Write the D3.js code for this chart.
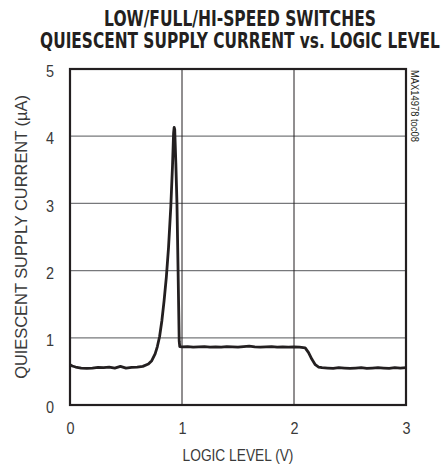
<!DOCTYPE html>
<html><head><meta charset="utf-8">
<script src="https://cdn.jsdelivr.net/npm/d3@7"></script>
<style>body{margin:0;background:#fff}svg{display:block}</style>
</head><body><svg id="c" width="444" height="468"></svg>
<script>
const titleLines = ["LOW/FULL/HI-SPEED SWITCHES", "QUIESCENT SUPPLY CURRENT vs. LOGIC LEVEL"];
const xLabel = "LOGIC LEVEL (V)";
const yLabel = "QUIESCENT SUPPLY CURRENT (\u00b5A)";
const sideNote = "MAX14978 toc08";
const xTicks = [0, 1, 2, 3];
const yTicks = [0, 1, 2, 3, 4, 5];
const logicLevel = [0, 0.02, 0.05, 0.1, 0.15, 0.2, 0.25, 0.3, 0.35, 0.4, 0.45, 0.5, 0.55, 0.6, 0.65, 0.7, 0.73, 0.76, 0.78, 0.8, 0.82, 0.84, 0.86, 0.88, 0.9, 0.915, 0.925, 0.93, 0.935, 0.945, 0.955, 0.965, 0.975, 0.98, 1.0, 1.05, 1.1, 1.15, 1.2, 1.25, 1.3, 1.35, 1.4, 1.45, 1.5, 1.55, 1.6, 1.65, 1.7, 1.75, 1.8, 1.85, 1.9, 1.95, 2.0, 2.05, 2.1, 2.13, 2.16, 2.19, 2.22, 2.25, 2.3, 2.35, 2.4, 2.45, 2.5, 2.55, 2.6, 2.65, 2.7, 2.75, 2.8, 2.85, 2.9, 2.95, 3.0];
const current = [0.60, 0.58, 0.565, 0.55, 0.545, 0.55, 0.56, 0.555, 0.565, 0.55, 0.575, 0.55, 0.56, 0.565, 0.575, 0.61, 0.66, 0.76, 0.87, 1.02, 1.25, 1.55, 1.9, 2.35, 2.95, 3.55, 4.05, 4.13, 4.1, 3.6, 3.0, 2.0, 0.95, 0.87, 0.865, 0.87, 0.86, 0.865, 0.87, 0.86, 0.865, 0.86, 0.87, 0.865, 0.86, 0.87, 0.875, 0.865, 0.86, 0.865, 0.87, 0.86, 0.865, 0.86, 0.865, 0.86, 0.85, 0.78, 0.68, 0.6, 0.565, 0.555, 0.55, 0.545, 0.555, 0.55, 0.545, 0.55, 0.555, 0.545, 0.55, 0.555, 0.55, 0.545, 0.555, 0.55, 0.555];

const svg = d3.select("#c");
const m = {l: 70, r: 406, t: 69, b: 405};
const x = d3.scaleLinear().domain([0, 3]).range([m.l, m.r]);
const y = d3.scaleLinear().domain([0, 5]).range([m.b, m.t]);
const font = "'Liberation Sans',Arial,sans-serif";
const ink = "#231f20";

// squeeze a text horizontally (in its own frame) to a target width
function squeeze(sel, tx, ty, rot, target) {
  const w = sel.node().getComputedTextLength();
  const s = Math.min(1, target / w);
  sel.attr("transform", `translate(${tx},${ty}) rotate(${rot}) scale(${s},1)`);
}

// title
const tw = [272, 400];
titleLines.forEach((t, i) => {
  const el = svg.append("text").attr("x", 0).attr("y", 0)
    .attr("text-anchor", "middle").attr("font-family", "'DejaVu Sans',sans-serif").attr("font-weight", "bold")
    .attr("font-size", 21).attr("fill", ink).text(t);
  squeeze(el, 240, 26 + i * 22, 0, tw[i]);
});

// gridlines
svg.append("g").selectAll("line").data(yTicks.slice(1, -1)).join("line")
  .attr("x1", m.l).attr("x2", m.r).attr("y1", d => y(d)).attr("y2", d => y(d))
  .attr("stroke", "#77787b").attr("stroke-width", 1.2);
svg.append("g").selectAll("line").data(xTicks.slice(1, -1)).join("line")
  .attr("y1", m.t).attr("y2", m.b).attr("x1", d => x(d)).attr("x2", d => x(d))
  .attr("stroke", ink).attr("stroke-width", 1);

// frame
svg.append("rect").attr("x", m.l).attr("y", m.t).attr("width", m.r - m.l).attr("height", m.b - m.t)
  .attr("fill", "none").attr("stroke", ink).attr("stroke-width", 2.2);

// tick labels via d3 axes (no tick lines)
const xa = d3.axisBottom(x).tickValues(xTicks).tickSize(0).tickPadding(0).tickFormat(d3.format("d"));
const gx = svg.append("g").attr("transform", `translate(0,${m.b + 29})`).call(xa);
gx.select(".domain").remove();
gx.selectAll("text").attr("font-family", font).attr("font-size", 17).attr("fill", "#3a3a3a")
  .attr("dy", 0).attr("transform", "scale(0.85,1)").attr("x", function(d) { return 0; });
gx.selectAll(".tick").each(function() {
  d3.select(this).select("text").attr("transform", "scale(0.85,1)");
});

const ya = d3.axisLeft(y).tickValues(yTicks).tickSize(0).tickPadding(0).tickFormat(d3.format("d"));
const gy = svg.append("g").attr("transform", `translate(${m.l - 16},0)`).call(ya);
gy.select(".domain").remove();
gy.selectAll("text").attr("font-family", font).attr("font-size", 17).attr("fill", "#3a3a3a")
  .attr("dy", "0.45em").attr("x", 0).attr("transform", "scale(0.85,1)");

// axis titles
const xl = svg.append("text").attr("text-anchor", "middle")
  .attr("font-family", font).attr("font-size", 17).attr("fill", "#3a3a3a").text(xLabel);
squeeze(xl, 238, 461, 0, 111);
const yl = svg.append("text").attr("text-anchor", "middle")
  .attr("font-family", font).attr("font-size", 17).attr("fill", "#3a3a3a").text(yLabel);
squeeze(yl, 27, (m.t + m.b) / 2, -90, 284);

// side note
const sn = svg.append("text").attr("text-anchor", "start")
  .attr("font-family", font).attr("font-size", 10).attr("fill", ink).text(sideNote);
squeeze(sn, 411, 70, 90, 72);

// curve
const line = d3.line().x((d, i) => x(logicLevel[i])).y(d => y(d));
svg.append("path").datum(current).attr("d", line).attr("fill", "none")
  .attr("stroke", ink).attr("stroke-width", 2.8).attr("stroke-linejoin", "round");
</script></body></html>
